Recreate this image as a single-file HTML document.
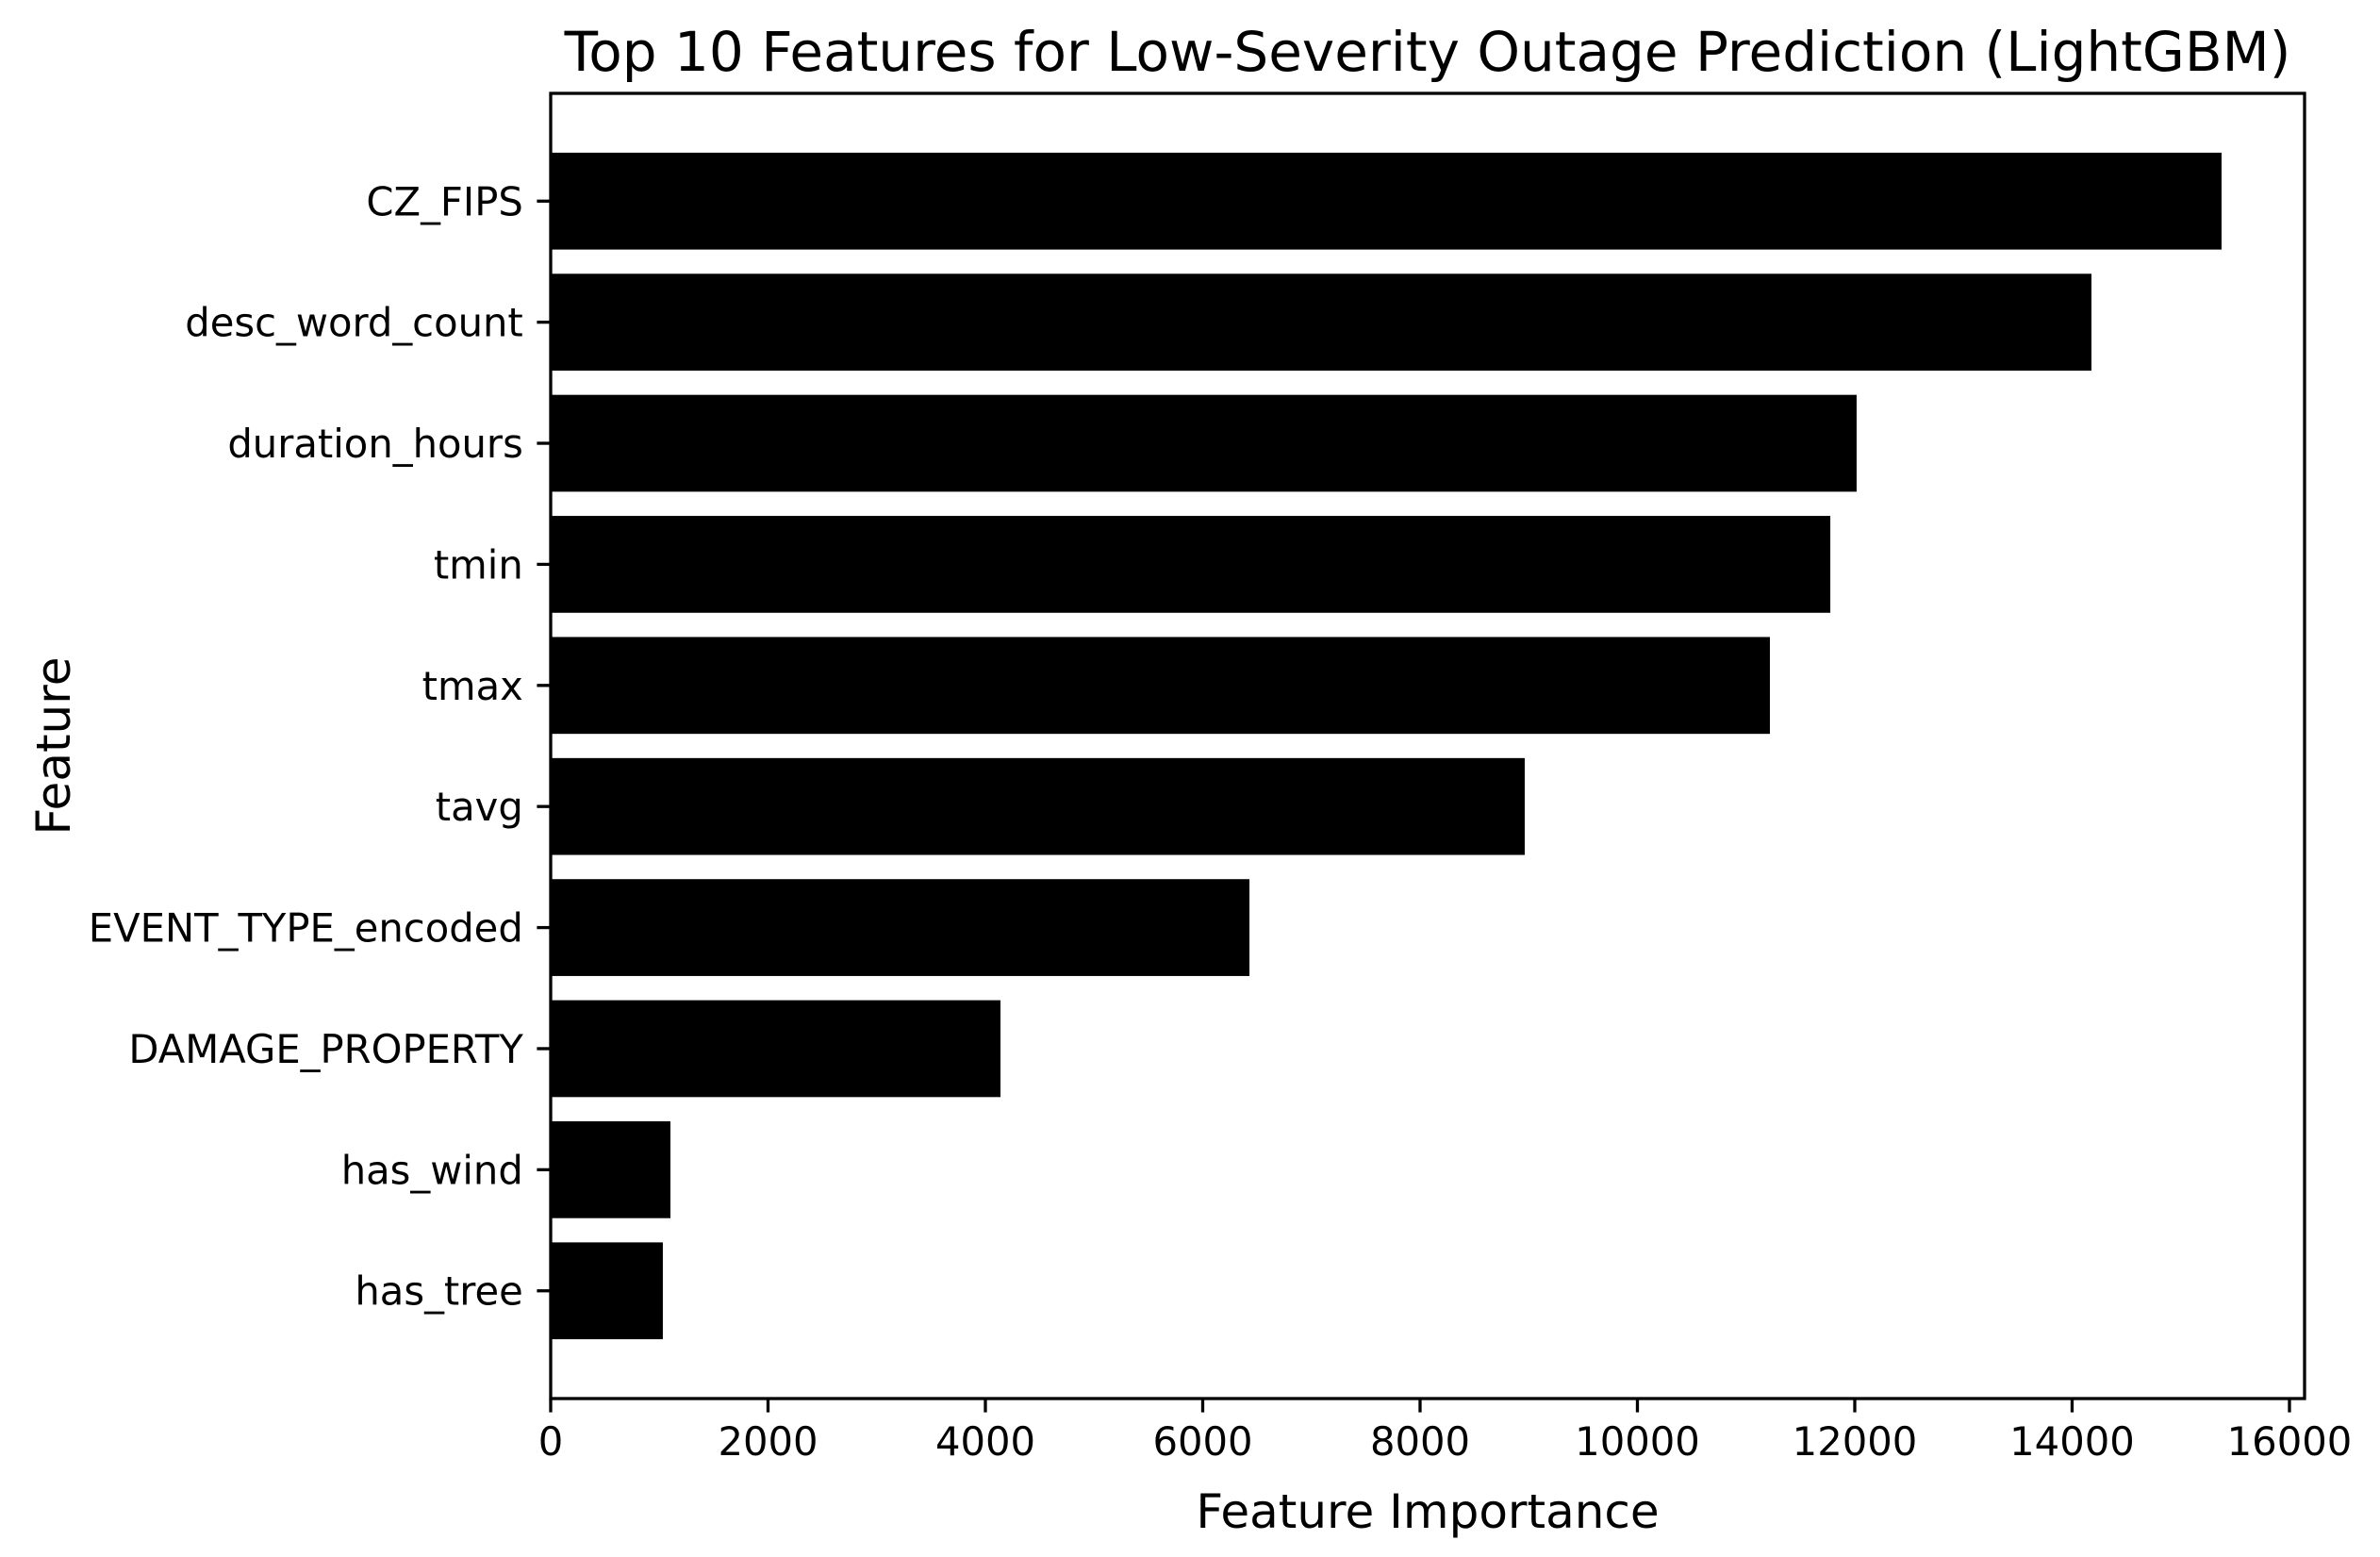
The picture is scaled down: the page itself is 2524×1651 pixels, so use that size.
<!DOCTYPE html>
<html>
<head>
<meta charset="utf-8">
<style>
  html,body{margin:0;padding:0;background:#fff;}
  svg{display:block;}
  text{font-family:"DejaVu Sans","Liberation Sans",sans-serif;fill:#000;}
</style>
</head>
<body>
<svg id="chart" width="2524" height="1651" viewBox="0 0 2524 1651" xmlns="http://www.w3.org/2000/svg">
  <rect x="0" y="0" width="2524" height="1651" fill="#fff"/>
  <g id="bars"></g>
  <g id="yticks"></g>
  <g id="xticks"></g>
  <rect x="584" y="99" width="1860" height="1384" fill="none" stroke="#000" stroke-width="3.3"/>
  <text x="1514" y="75" font-size="58" text-anchor="middle">Top 10 Features for Low-Severity Outage Prediction (LightGBM)</text>
  <text x="1514" y="1620" font-size="50" text-anchor="middle">Feature Importance</text>
  <text x="0" y="0" font-size="50" text-anchor="middle" transform="translate(74,791) rotate(-90)">Feature</text>
</svg>
<script>
const features = ["CZ_FIPS","desc_word_count","duration_hours","tmin","tmax","tavg","EVENT_TYPE_encoded","DAMAGE_PROPERTY","has_wind","has_tree"];
const importance = [15375, 14178, 12017, 11775, 11219, 8963, 6430, 4139, 1102, 1032];
const xTicks = [0, 2000, 4000, 6000, 8000, 10000, 12000, 14000, 16000];

const AX_L = 584, AX_R = 2444, AX_T = 99, AX_B = 1483;
const X_MAX = 16139;
const n = features.length;
const Y_MIN = -0.89, Y_MAX = (n - 1) + 0.89;
const NS = "http://www.w3.org/2000/svg";
function xScale(v){ return AX_L + (v / X_MAX) * (AX_R - AX_L); }
function yScale(i){ // index 0 at top
  const pos = (n - 1) - i;
  return AX_B - (pos - Y_MIN) / (Y_MAX - Y_MIN) * (AX_B - AX_T);
}
const unit = (AX_B - AX_T) / (Y_MAX - Y_MIN);
const barH = 0.8 * unit;

const gb = document.getElementById('bars');
const gy = document.getElementById('yticks');
const gx = document.getElementById('xticks');

features.forEach((f, i) => {
  const cy = yScale(i);
  const r = document.createElementNS(NS, 'rect');
  r.setAttribute('x', xScale(0));
  r.setAttribute('y', cy - barH / 2);
  r.setAttribute('width', xScale(importance[i]) - xScale(0));
  r.setAttribute('height', barH);
  r.setAttribute('fill', '#000');
  
  
  gb.appendChild(r);

  const t = document.createElementNS(NS, 'line');
  t.setAttribute('x1', AX_L - 14.6); t.setAttribute('x2', AX_L);
  t.setAttribute('y1', cy); t.setAttribute('y2', cy);
  t.setAttribute('stroke', '#000'); t.setAttribute('stroke-width', '3.3');
  
  
  gy.appendChild(t);

  const lb = document.createElementNS(NS, 'text');
  lb.setAttribute('x', AX_L - 29.2);
  lb.setAttribute('y', cy + 15);
  lb.setAttribute('font-size', '41.7');
  lb.setAttribute('text-anchor', 'end');
  lb.textContent = f;
  
  
  gy.appendChild(lb);
});

xTicks.forEach(v => {
  const x = xScale(v);
  const t = document.createElementNS(NS, 'line');
  t.setAttribute('x1', x); t.setAttribute('x2', x);
  t.setAttribute('y1', AX_B); t.setAttribute('y2', AX_B + 14.6);
  t.setAttribute('stroke', '#000'); t.setAttribute('stroke-width', '3.3');
  
  
  gx.appendChild(t);

  const lb = document.createElementNS(NS, 'text');
  lb.setAttribute('x', x);
  lb.setAttribute('y', AX_B + 29.2 + 31);
  lb.setAttribute('font-size', '41.7');
  lb.setAttribute('text-anchor', 'middle');
  lb.textContent = String(v);
  
  
  gx.appendChild(lb);
});
</script>
</body>
</html>
